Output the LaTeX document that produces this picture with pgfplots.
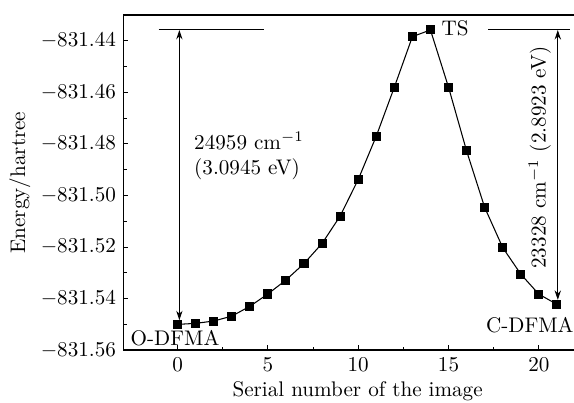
\documentclass[border=0pt]{standalone}
\usepackage{pgfplots}
\pgfplotsset{compat=1.18}
\usetikzlibrary{arrows.meta}
\begin{document}
\begin{tikzpicture}
\begin{axis}[
  scale only axis,
  width=213.75pt, height=158.65pt,
  xmin=-3, xmax=22,
  ymin=-831.56, ymax=-831.43,
  xtick={0,5,10,15,20},
  ytick={-831.56,-831.54,-831.52,-831.50,-831.48,-831.46,-831.44},
  minor x tick num=1,
  minor y tick num=1,
  tick pos=left,
  tick align=inside,
  major tick length=2.4pt,
  minor tick length=1.5pt,
  scaled y ticks=false,
  yticklabel style={/pgf/number format/.cd, fixed, fixed zerofill, precision=2},
  xlabel={Serial number of the image},
  ylabel={Energy/hartree},
  xlabel style={xshift=4pt, yshift=2pt},
  ylabel style={yshift=-2pt},
  axis line style={line width=0.7pt},
  every tick/.style={line width=0.5pt, black},
  clip=false,
]
\addplot[black, line width=0.5pt, mark=square*, mark size=1.9pt, mark options={solid}] coordinates {
(0,-831.5500) (1,-831.5496) (2,-831.5487) (3,-831.5468) (4,-831.5430)
(5,-831.5382) (6,-831.5328) (7,-831.5264) (8,-831.5186) (9,-831.5080)
(10,-831.4938) (11,-831.4770) (12,-831.4580) (13,-831.4384) (14,-831.4358)
(15,-831.4580) (16,-831.4827) (17,-831.5046) (18,-831.5202) (19,-831.5305)
(20,-831.5383) (21,-831.5422)
};
% annotations
\draw[line width=0.5pt] (axis cs:-1.05,-831.4358) -- (axis cs:4.8,-831.4358);
\draw[line width=0.5pt, {Stealth[length=4.5pt,width=3pt]}-{Stealth[length=4.5pt,width=3pt]}] (axis cs:0.1,-831.4358) -- (axis cs:0.1,-831.5484);
\draw[line width=0.5pt] (axis cs:17.2,-831.4358) -- (axis cs:21.75,-831.4358);
\draw[line width=0.5pt, {Stealth[length=4.5pt,width=3pt]}-{Stealth[length=4.5pt,width=3pt]}] (axis cs:21.05,-831.4358) -- (axis cs:21.05,-831.5405);
\node[anchor=west, align=left, inner sep=0pt] at (axis cs:0.9,-831.4847) {24959 cm$^{-1}$\\(3.0945 eV)};
\node[rotate=90, inner sep=0pt] at (axis cs:20.05,-831.4853) {23328 cm$^{-1}$ (2.8923 eV)};
\node[anchor=west] at (axis cs:14.2,-831.4350) {TS};
\node[inner sep=0pt] at (axis cs:-0.14,-831.5552) {O-DFMA};
\node[inner sep=0pt] at (axis cs:19.5,-831.5503) {C-DFMA};
\end{axis}
\pgfresetboundingbox
\path[use as bounding box] ([xshift=-58.4pt,yshift=-24.7pt]current axis.south west) rectangle ([xshift=-0.45pt,yshift=7.1pt]current axis.north east);
\end{tikzpicture}
\end{document}
